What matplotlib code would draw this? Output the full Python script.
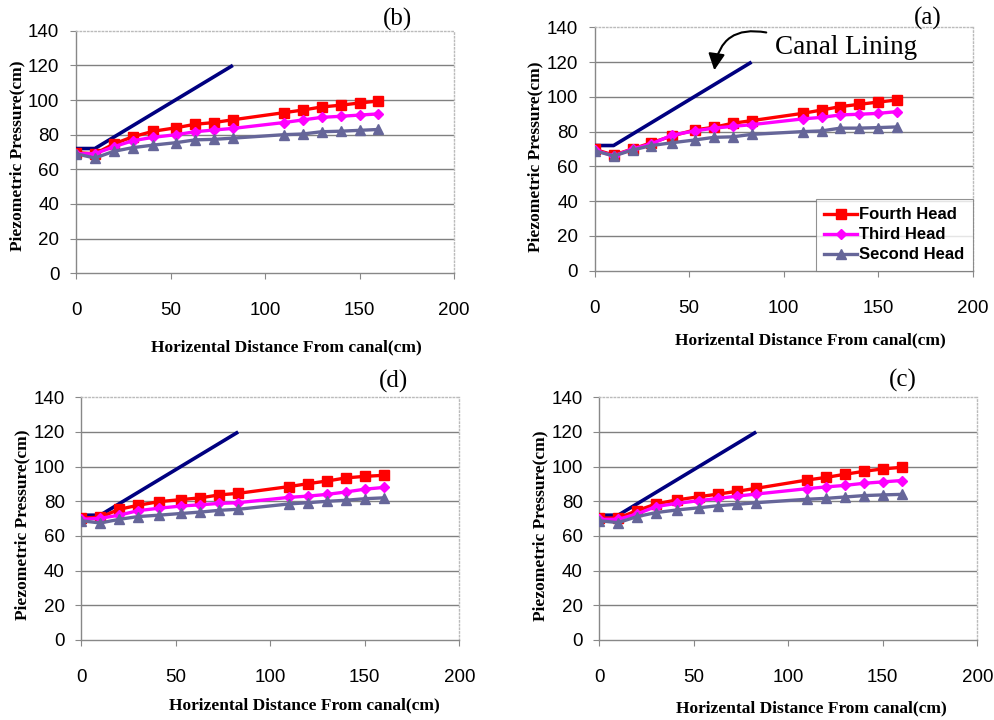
import matplotlib
matplotlib.use("Agg")
import matplotlib.pyplot as plt

# ---------------- data ----------------
x_dist = [0, 10, 20, 30, 41, 53, 63, 73, 83, 110, 120, 130, 140, 150, 160]
lining_x = [0, 10, 83]
lining_y = [72, 72, 120]

# panel (a)
a_fourth = [69.8, 66.5, 70, 73.6, 77.5, 81, 82.5, 84.8, 86.3, 90.5, 92.4, 94.4, 95.7, 97, 98.2]
a_third = [69.4, 66, 70, 73, 78, 80.4, 82, 83, 84, 87.3, 88.2, 89.6, 90, 90.5, 91.5]
a_second = [69, 66, 69.4, 72, 73.6, 75.2, 76.7, 77, 78.4, 80, 80.4, 82, 82, 82.3, 82.7]
# panel (b)
b_fourth = [69.6, 69, 74.6, 78.8, 82, 84, 86, 87, 88.6, 92.7, 94.2, 96, 97, 98.3, 99.4]
b_third = [69, 69, 73, 76.5, 78.5, 80, 81.7, 82.7, 83.6, 87, 88.5, 90, 90.6, 91.3, 92]
b_second = [69, 66.5, 70.4, 72.5, 74, 75.4, 77, 77.3, 78, 80, 80.4, 81.7, 82, 82.5, 83]
# panel (c)
c_fourth = [70.4, 70.4, 74.6, 78.5, 80.8, 82.7, 84.2, 85.8, 87.5, 92.3, 93.8, 95.6, 97.3, 98.7, 99.6]
c_third = [69.6, 69.6, 72.7, 77, 78.8, 80.4, 81.7, 83, 84.2, 87.3, 88.3, 89.2, 90.4, 91.2, 92]
c_second = [68.8, 67.7, 71.2, 73.5, 75, 76.3, 77.5, 78.3, 79.2, 81.2, 81.7, 82.5, 83.3, 83.7, 84]
# panel (d)
d_fourth = [70.4, 70.8, 75.4, 77.7, 79.8, 81, 82, 83.7, 84.6, 88.5, 90.2, 91.7, 93.5, 94.4, 95]
d_third = [69.6, 70.2, 72, 74.6, 76, 77.3, 78, 78.8, 79.2, 82.3, 83, 84, 85.4, 87, 88]
d_second = [68.8, 67.5, 69.6, 71.2, 72, 73, 73.8, 74.8, 75.4, 78.5, 79.2, 80, 80.6, 81.5, 82]

series_names = ["Fourth Head", "Third Head", "Second Head"]
x_ticks = [0, 50, 100, 150, 200]
y_ticks = [0, 20, 40, 60, 80, 100, 120, 140]
xlabel = "Horizental Distance From canal(cm)"
ylabel = "Piezometric Pressure(cm)"

# ---------------- style ----------------
W, H = 994, 720
fig = plt.figure(figsize=(W / 100, H / 100), dpi=100)
fig.patch.set_facecolor("white")

colors = ["#FF0000", "#FF00FF", "#666699"]
markers = ["s", "D", "^"]
msizes = [6.5, 5, 6.5]
serif = "Liberation Serif"
sans = "Liberation Sans"


def px_axes(l, t, r, b):
    return fig.add_axes([l / W, 1 - b / H, (r - l) / W, (b - t) / H])


panels = [
    # label, box(l,t,r,b), series, panel-label pos, xlabel pos, ylabel pos
    ("(b)", (76, 30.7, 454, 273.3), (b_fourth, b_third, b_second), (397, 19), (286, 347), (17, 156)),
    ("(a)", (594.7, 27.3, 972.7, 270.7), (a_fourth, a_third, a_second), (928, 18), (810, 340), (535, 157)),
    ("(d)", (81.3, 397.3, 459.3, 640), (d_fourth, d_third, d_second), (394, 381), (304, 705), (22, 525)),
    ("(c)", (599.3, 397.3, 977.3, 640), (c_fourth, c_third, c_second), (903, 380), (811, 708), (540, 526)),
]

axes = {}
for lab, box, ser, lpos, xlpos, ylpos in panels:
    ax = px_axes(*box)
    axes[lab] = ax
    ax.set_xlim(0, 200)
    ax.set_ylim(0, 140)
    ax.set_xticks(x_ticks)
    ax.set_yticks(y_ticks)
    for yv in y_ticks[1:-1]:
        ax.axhline(yv, color="#808080", lw=1.0, zorder=1)
    ax.spines["top"].set_color("#BBBBBB")
    ax.spines["top"].set_linestyle(":")
    ax.spines["right"].set_color("#BBBBBB")
    ax.spines["right"].set_linestyle(":")
    ax.spines["left"].set_color("#888888")
    ax.spines["bottom"].set_color("#888888")
    for s in ax.spines.values():
        s.set_linewidth(1.0)
    ax.tick_params(axis="both", direction="out", length=4, width=0.8, color="#888888",
                   labelsize=13.5, labelcolor="black")
    ax.tick_params(axis="x", pad=17)
    ax.tick_params(axis="y", pad=8)
    for t in ax.get_xticklabels() + ax.get_yticklabels():
        t.set_fontfamily(sans)

    ax.plot(lining_x, lining_y, color="#000080", lw=2.6, zorder=3, solid_capstyle="butt")
    for vals, c, m, ms, name in zip(ser, colors, markers, msizes, series_names):
        ax.plot(x_dist, vals, color=c, lw=2.4, marker=m, ms=ms, mfc=c, mec=c,
                label=name, zorder=4)

    fig.text(lpos[0] / W, 1 - lpos[1] / H, lab, fontfamily=serif, fontsize=18,
             ha="center", va="center")
    fig.text(xlpos[0] / W, 1 - xlpos[1] / H, xlabel, fontfamily=serif, fontweight="bold",
             fontsize=12.5, ha="center", va="center")
    fig.text(ylpos[0] / W, 1 - ylpos[1] / H, ylabel, fontfamily=serif, fontweight="bold",
             fontsize=12.5, ha="center", va="center", rotation=90)

# legend in panel (a)
axa = axes["(a)"]
leg = axa.legend(loc="lower right", bbox_to_anchor=(1.0, 0.0), borderaxespad=0,
                 prop={"family": sans, "weight": "bold", "size": 12},
                 frameon=True, fancybox=False, handlelength=2.0, handletextpad=0.1,
                 labelspacing=0.3, borderpad=0.5)
leg.get_frame().set_edgecolor("#777777")
leg.get_frame().set_linewidth(0.8)
leg.set_zorder(10)

# Canal Lining annotation
fig.text(846 / W, 1 - 47 / H, "Canal Lining", fontfamily=serif, fontsize=19.5,
         ha="center", va="center")
fig.add_artist(matplotlib.patches.FancyArrowPatch(
    posA=(769 / W, 1 - 33 / H), posB=(714 / W, 1 - 73 / H),
    transform=fig.transFigure, arrowstyle="-|>,head_length=10,head_width=5",
    connectionstyle="arc3,rad=0.55", color="black", lw=1.5))

fig.savefig("out.png", dpi=100, facecolor="white")
